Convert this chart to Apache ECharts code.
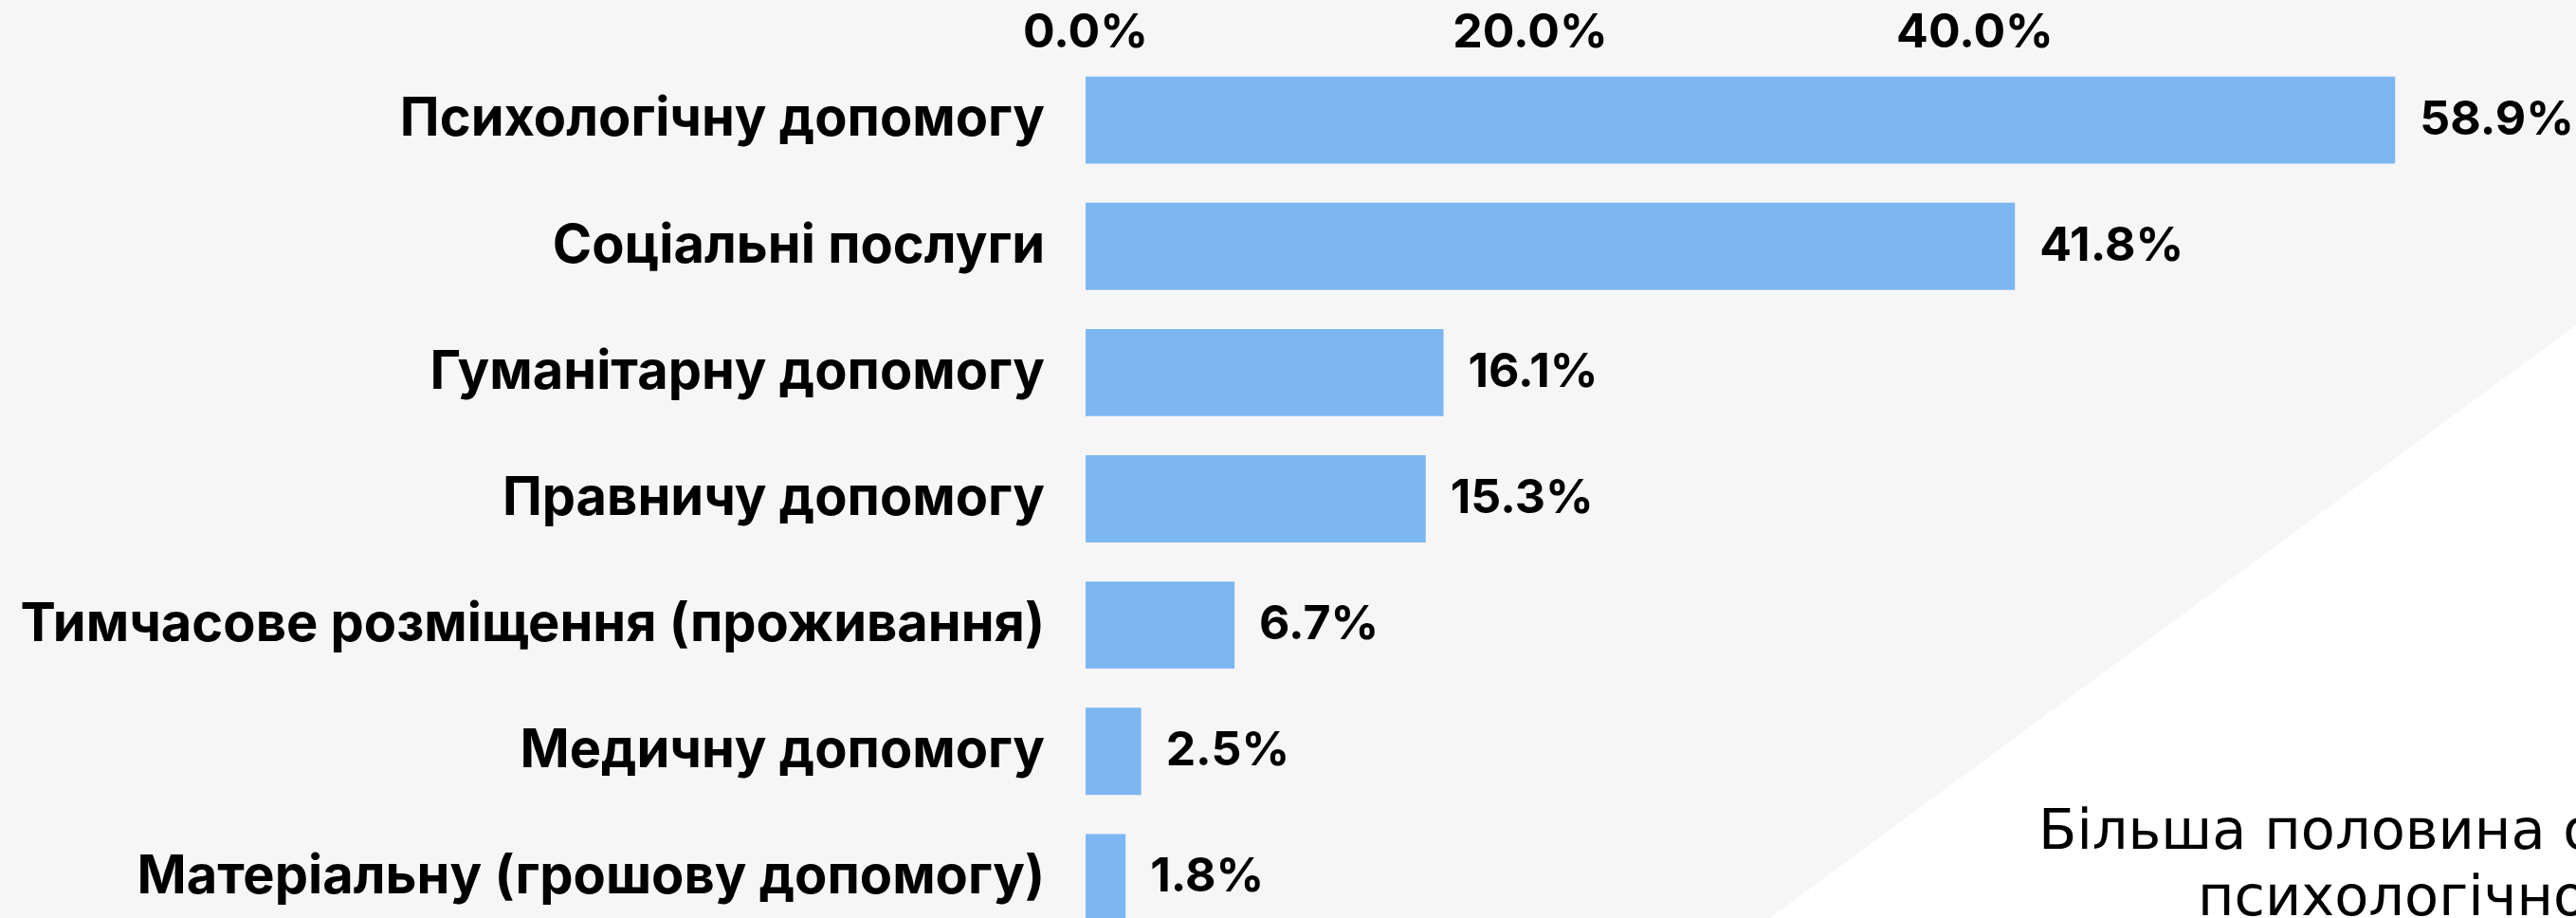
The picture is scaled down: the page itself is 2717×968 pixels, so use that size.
<!DOCTYPE html>
<html>
<head>
<meta charset="utf-8">
<script src="https://cdn.jsdelivr.net/npm/echarts@6/dist/echarts.min.js"></script>
<style>
  html, body { margin: 0; padding: 0; overflow: hidden; background: #f6f6f6; }
  #chart { width: 2717px; height: 992px; }
</style>
</head>
<body>
<div id="chart"></div>
<script>
// categories, top to bottom
var categories = [
  'Психологічну допомогу',
  'Соціальні послуги',
  'Гуманітарну допомогу',
  'Правничу допомогу',
  'Тимчасове розміщення (проживання)',
  'Медичну допомогу',
  'Матеріальну (грошову допомогу)'
];
var shares = [58.9, 41.8, 16.1, 15.3, 6.7, 2.5, 1.8];
var tickValues = [0, 20, 40];
var noteLines = ['Більша половина опитаних потребує', 'психологічної допомоги'];

var font = "Inter, 'Open Sans', sans-serif";

window.onload = function () {
  var chart = echarts.init(document.getElementById('chart'));
  var option = {
    animation: false,
    backgroundColor: '#f6f6f6',
    grid: { top: 60, bottom: 0, left: 1145, right: 165, containLabel: false },
    xAxis: {
      type: 'value',
      position: 'top',
      min: 0,
      max: 60,
      interval: 20,
      axisLine: { show: false },
      axisTick: { show: false },
      splitLine: { show: false },
      axisLabel: {
        showMaxLabel: false,
        margin: 0,
        color: '#000',
        fontFamily: font,
        fontWeight: 'bold',
        fontSize: 50,
        formatter: function (v) {
          return tickValues.indexOf(v) >= 0 ? v.toFixed(1) + '%' : '';
        }
      }
    },
    yAxis: {
      type: 'category',
      inverse: true,
      data: categories,
      axisLine: { show: false },
      axisTick: { show: false },
      axisLabel: {
        margin: 43,
        color: '#000',
        fontFamily: font,
        fontWeight: 'bold',
        fontSize: 56
      }
    },
    series: [{
      type: 'bar',
      data: shares,
      barCategoryGap: '31%',
      itemStyle: { color: '#7db7f1' },
      label: {
        show: true,
        position: 'right',
        distance: 26,
        color: '#000',
        fontFamily: font,
        fontWeight: 'bold',
        fontSize: 50,
        formatter: function (p) { return p.value.toFixed(1) + '%'; }
      },
      z: 3
    }],
    graphic: [
      {
        type: 'polygon',
        z: -10,
        silent: true,
        shape: { points: [[2717, 343], [2717, 992], [1834, 992]] },
        style: { fill: '#ffffff' }
      },
      {
        type: 'text',
        left: 2150,
        top: 850,
        z: 5,
        style: {
          text: noteLines[0],
          fill: '#000',
          font: "normal 59px 'DejaVu Sans', sans-serif"
        }
      },
      {
        type: 'text',
        left: 2318,
        top: 920,
        z: 5,
        style: {
          text: noteLines[1],
          fill: '#000',
          font: "normal 59px 'DejaVu Sans', sans-serif"
        }
      }
    ]
  };
  chart.setOption(option);
};
</script>
</body>
</html>
